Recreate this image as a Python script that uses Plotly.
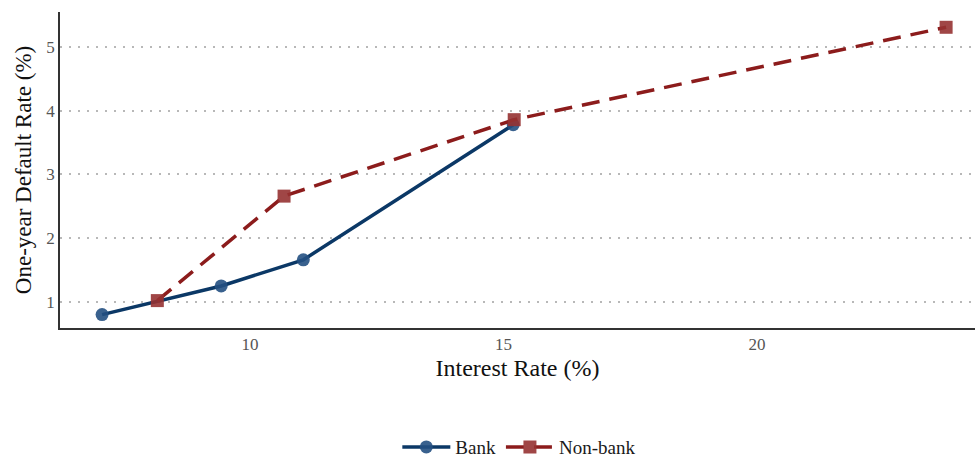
import plotly.graph_objects as go

# Interest rate (%) vs one-year default rate (%) by lender type
bank_rate = [7.08, 9.43, 11.05, 15.19]
bank_default = [0.80, 1.25, 1.66, 3.78]

nonbank_rate = [8.17, 10.67, 15.21, 23.73]
nonbank_default = [1.02, 2.66, 3.86, 5.31]

x_ticks = [10, 15, 20]
y_ticks = [1, 2, 3, 4, 5]

serif = "Liberation Serif, Times New Roman, serif"

fig = go.Figure()
fig.add_trace(go.Scatter(
    x=bank_rate, y=bank_default, name="Bank", mode="lines+markers",
    line=dict(color="#0b3866", width=3.5),
    marker=dict(symbol="circle", size=13, color="rgba(35,80,130,0.9)"),
))
fig.add_trace(go.Scatter(
    x=nonbank_rate, y=nonbank_default, name="Non-bank", mode="lines+markers",
    line=dict(color="#8c1c1c", width=3.5, dash="18px,10px"),
    marker=dict(symbol="square", size=13, color="rgba(150,50,50,0.9)"),
))

fig.update_layout(
    width=977, height=460,
    margin=dict(l=60, r=2, t=12, b=132, autoexpand=False),
    paper_bgcolor="white", plot_bgcolor="white",
    font=dict(family=serif, color="#4d4d4d", size=15),
    showlegend=True,
    legend=dict(orientation="h", x=0.502, xanchor="center",
                yref="container", y=0.028, yanchor="middle",
                itemwidth=48, entrywidth=0, tracegroupgap=0,
                font=dict(family=serif, size=19, color="#1a1a1a")),
    xaxis=dict(
        range=[6.25, 24.3], tickvals=x_ticks, showgrid=False, zeroline=False,
        showline=True, linecolor="#333333", linewidth=1.5, ticks="",
        tickfont=dict(size=17, color="#555555"),
        title=dict(text="Interest Rate (%)", font=dict(size=24, color="#111111"), standoff=6),
    ),
    yaxis=dict(
        range=[0.59, 5.55], tickvals=y_ticks, showgrid=True, gridcolor="#b8b8b8",
        gridwidth=2, griddash="2px,7px", zeroline=False,
        showline=True, linecolor="#333333", linewidth=1.5, ticks="",
        tickfont=dict(size=17, color="#555555"),
        title=dict(text="One-year Default Rate (%)", font=dict(size=23, color="#111111"), standoff=8),
    ),
)

fig.write_html("out.html")
